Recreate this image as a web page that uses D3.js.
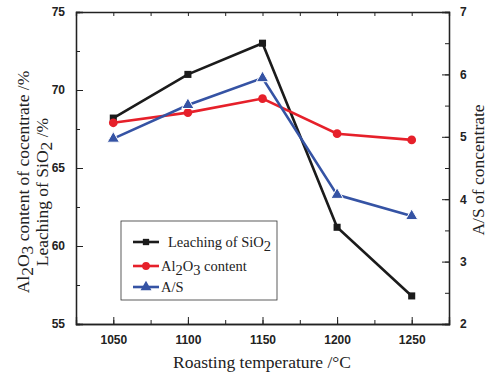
<!DOCTYPE html>
<html lang="en">
<head>
  <meta charset="UTF-8">
  <script src="https://cdn.jsdelivr.net/npm/d3@7"></script>
  <title>Roasting temperature</title>
  <style>
    body { margin: 0; background: #fff; }
    .tick text { font-family: "Liberation Sans", Arial, sans-serif; font-weight: bold; font-size: 12px; }
    .ttl { font-family: "Liberation Serif", "Times New Roman", serif; font-size: 17.5px; }
    .leg { font-family: "Liberation Serif", "Times New Roman", serif; font-size: 14.5px; }
  </style>
</head>
<body>
<script>
// data
const temps = [1050, 1100, 1150, 1200, 1250];
const leachSiO2 = [68.2, 71.0, 73.0, 61.2, 56.8];
const al2o3 = [67.9, 68.55, 69.45, 67.2, 66.8];
const aS = [4.97, 5.51, 5.94, 4.07, 3.73];
const xTicks = [1050, 1100, 1150, 1200, 1250];
const yLeftTicks = [55, 60, 65, 70, 75];
const yRightTicks = [2, 3, 4, 5, 6, 7];

const w = 487, h = 377;
const m = { left: 76, right: 38, top: 12, bottom: 53 };

const svg = d3.select("body").append("svg")
  .attr("width", w).attr("height", h);

const x = d3.scaleLinear().domain([1025, 1275]).range([m.left, w - m.right]);
const yL = d3.scaleLinear().domain([55, 75]).range([h - m.bottom, m.top]);
const yR = d3.scaleLinear().domain([2, 7]).range([h - m.bottom, m.top]);

// axes, ticks pointing inward
function minor(sc, step) {
  const d = sc.domain(), out = [];
  for (let v = Math.ceil(d[0] / step) * step; v <= d[1] + 1e-9; v += step) out.push(v);
  return out;
}
function drawAxis(axis, tr) {
  const g = svg.append("g").attr("transform", tr).call(axis);
  g.selectAll("path.domain").attr("stroke", "#222").attr("stroke-width", 1.3);
  g.selectAll(".tick line").attr("stroke", "#222").attr("stroke-width", 1);
  return g;
}
const bottomY = h - m.bottom;
drawAxis(d3.axisBottom(x).tickValues(minor(x, 25)).tickSize(-4).tickFormat(""), `translate(0,${bottomY})`);
drawAxis(d3.axisBottom(x).tickValues(xTicks).tickSize(-7).tickPadding(11).tickFormat(d3.format("d")), `translate(0,${bottomY})`)
  .selectAll(".tick text").attr("fill", "#222");
drawAxis(d3.axisTop(x).tickValues(minor(x, 25)).tickSize(-4).tickFormat(""), `translate(0,${m.top})`);

drawAxis(d3.axisLeft(yL).tickValues(minor(yL, 2.5)).tickSize(-4).tickFormat(""), `translate(${m.left},0)`);
drawAxis(d3.axisLeft(yL).tickValues(yLeftTicks).tickSize(-7).tickPadding(11).tickFormat(d3.format("d")), `translate(${m.left},0)`)
  .selectAll(".tick text").attr("fill", "#222");

drawAxis(d3.axisRight(yR).tickValues(minor(yR, 0.5)).tickSize(-4).tickFormat(""), `translate(${w - m.right},0)`);
drawAxis(d3.axisRight(yR).tickValues(yRightTicks).tickSize(-7).tickPadding(11).tickFormat(d3.format("d")), `translate(${w - m.right},0)`)
  .selectAll(".tick text").attr("fill", "#222");

// series
const series = [
  { vals: leachSiO2, sc: yL, color: "#1b1b1b", sym: d3.symbolSquare, size: 50 },
  { vals: al2o3, sc: yL, color: "#e6202a", sym: d3.symbolCircle, size: 60 },
  { vals: aS, sc: yR, color: "#3553a4", sym: d3.symbolTriangle, size: 65 }
];

series.forEach(s => {
  const line = d3.line().x((d, i) => x(temps[i])).y(d => s.sc(d));
  svg.append("path").datum(s.vals)
    .attr("d", line).attr("fill", "none")
    .attr("stroke", s.color).attr("stroke-width", 2.6);
});
series.forEach(s => {
  svg.append("g").selectAll("path").data(s.vals).join("path")
    .attr("transform", (d, i) => `translate(${x(temps[i])},${s.sc(d)})`)
    .attr("d", d3.symbol().type(s.sym).size(s.size))
    .attr("fill", s.color)
    .attr("stroke", s.sym === d3.symbolTriangle ? "#fff" : "none")
    .attr("stroke-width", 1);
});

// legend
const lg = svg.append("g");
lg.append("rect").attr("x", 121).attr("y", 221).attr("width", 156).attr("height", 79)
  .attr("fill", "#fff").attr("stroke", "#333").attr("stroke-width", 0.8);
const legRows = [
  { y: 242, tx: 168, parts: [["Leaching of SiO", 0], ["2", 1]] },
  { y: 266, tx: 161, parts: [["Al", 0], ["2", 1], ["O", 0], ["3", 1], [" content", 0]] },
  { y: 287, tx: 161, parts: [["A/S", 0]] }
];
legRows.forEach((r, i) => {
  const s = series[i];
  lg.append("line").attr("x1", 133).attr("x2", 159).attr("y1", r.y).attr("y2", r.y)
    .attr("stroke", s.color).attr("stroke-width", 2.6);
  lg.append("path").attr("transform", `translate(146,${r.y})`)
    .attr("d", d3.symbol().type(s.sym).size(s.size * 0.8)).attr("fill", s.color);
  const t = lg.append("text").attr("class", "leg").attr("x", r.tx).attr("y", r.y + 5).attr("fill", "#222");
  addParts(t, r.parts);
});

function addParts(t, parts) {
  let sub = false;
  parts.forEach(([txt, isSub]) => {
    const ts = t.append("tspan").text(txt);
    if (isSub && !sub) ts.attr("dy", 4);
    if (!isSub && sub) ts.attr("dy", -4);
    sub = !!isSub;
  });
}

// titles
svg.append("text").attr("class", "ttl").attr("x", 262).attr("y", 368)
  .attr("text-anchor", "middle").attr("fill", "#222").text("Roasting temperature /°C");

const t1 = svg.append("text").attr("class", "ttl").attr("text-anchor", "middle").attr("fill", "#222")
  .attr("transform", "translate(29,182) rotate(-90)");
addParts(t1, [["Al", 0], ["2", 1], ["O", 0], ["3", 1], [" content of cocentrate  /%", 0]]);
const t2 = svg.append("text").attr("class", "ttl").attr("text-anchor", "middle").attr("fill", "#222")
  .attr("transform", "translate(48,192) rotate(-90)");
addParts(t2, [["Leaching of SiO", 0], ["2", 1], [" /%", 0]]);

svg.append("text").attr("class", "ttl").attr("text-anchor", "middle").attr("fill", "#222")
  .attr("transform", "translate(484,170) rotate(-90)").text("A/S of concentrate");
</script>
</body>
</html>
